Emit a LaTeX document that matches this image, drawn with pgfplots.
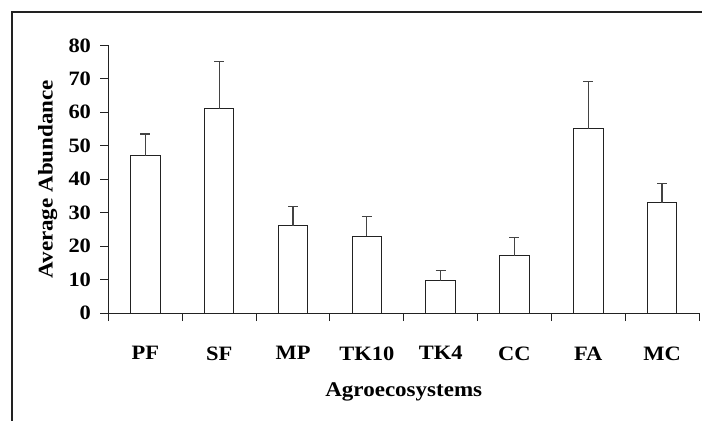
\documentclass[border=0pt]{standalone}
\usepackage{fontspec}
\setmainfont{Liberation Serif}[FakeStretch=1.1]
\usepackage{pgfplots}
\pgfplotsset{compat=1.18}
\definecolor{ink}{HTML}{222222}
\begin{document}
\begin{tikzpicture}
\begin{axis}[
 at={(0,0)}, anchor=south west,
 scale only axis, width=590.5bp, height=267.6bp,
 xmin=0, xmax=8, ymin=0, ymax=80,
 axis x line*=bottom, axis y line*=left,
 axis line style={ink, line width=1bp},
 ybar, bar width=29.5bp,
 xtick={0,1,...,8}, xticklabels={},
 extra x ticks={0.5,1.5,2.5,3.5,4.5,5.5,6.5,7.5},
 extra x tick labels={PF,SF,MP,TK10,TK4,CC,FA,MC},
 extra x tick style={major tick length=0pt, tick style={draw=none}},
 ytick={0,10,...,80},
 tick align=outside, major tick length=8bp,
 tick style={ink, line width=1bp},
 /pgf/number format/assume math mode=true,
 ticklabel style={font=\fontsize{20.5}{24}\selectfont\bfseries},
 xticklabel style={yshift=-30bp},
 yticklabel style={xshift=-6bp},
 xlabel={Agroecosystems}, ylabel={Average Abundance},
 every axis x label/.style={at={(axis description cs:0.5,-0.295)}, anchor=center, font=\fontsize{21}{24}\selectfont\bfseries},
 every axis y label/.style={at={(axis description cs:-0.103,0.5)}, rotate=90, anchor=center, font=\fontsize{21}{24}\selectfont\bfseries},
 clip=false,
]
\addplot[fill=white, draw=ink, line width=1bp,
  error bars/.cd, y dir=plus, y explicit,
  error bar style={line width=1.3bp, color=ink!85},
  error mark options={rotate=90, mark size=5bp, line width=1.3bp, color=ink!85}]
 coordinates {
 (0.5,47.0) +- (0,6.5)
 (1.5,61.1) +- (0,14.1)
 (2.5,26.1) +- (0,5.8)
 (3.5,23.0) +- (0,5.8)
 (4.5,9.6) +- (0,3.1)
 (5.5,17.1) +- (0,5.4)
 (6.5,55.1) +- (0,14.2)
 (7.5,33.0) +- (0,5.8)
 };
\end{axis}
\draw[ink, line width=1.2bp] (-96.5bp,-108bp) -- (-96.5bp,301bp) -- (593.5bp,301bp);
\pgfresetboundingbox
\useasboundingbox (-108.5bp,-108bp) rectangle (593.5bp,313bp);
\end{tikzpicture}
\end{document}
